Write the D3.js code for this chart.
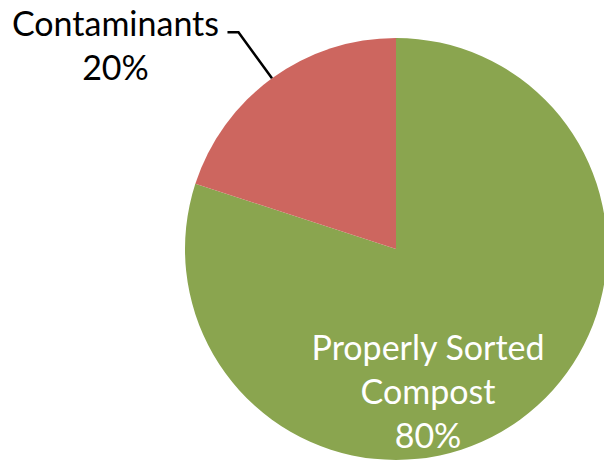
<!DOCTYPE html>
<html><head><meta charset="utf-8">
<script src="https://cdn.jsdelivr.net/npm/d3@7"></script>
<style>html,body{margin:0;padding:0;background:#fff;overflow:hidden}</style>
</head><body>
<svg id="c" width="604" height="460"></svg>
<script>
const categories = ["Properly Sorted Compost", "Contaminants"];
const values = [80, 20];
const labelLines = [["Properly Sorted", "Compost", "80%"], ["Contaminants", "20%"]];
const colors = ["#8AA54F", "#CD665F"];

const svg = d3.select("#c");
const cx = 396, cy = 249, r = 211;
const g = svg.append("g").attr("transform", `translate(${cx},${cy})`);
const pie = d3.pie().sort(null).value(d => d)(values);
const arc = d3.arc().innerRadius(0).outerRadius(r);
g.selectAll("path.slice").data(pie).join("path")
  .attr("class", "slice")
  .attr("d", arc)
  .attr("fill", (d, i) => colors[i]);

const font = "Lato, 'Open Sans', sans-serif";
const fs = 34, lh = 44;

// inside label for slice 0
const lab0 = g.append("text").attr("font-family", font).attr("font-size", fs)
  .attr("fill", "#fff").attr("text-anchor", "middle");
labelLines[0].forEach((t, k) => {
  lab0.append("tspan").attr("x", 32).attr("y", 111 + k * lh).text(t);
});

// outside label with leader for slice 1
const p1 = pie[1];
const mid = (p1.startAngle + p1.endAngle) / 2;
const pt = (rad) => [Math.sin(mid) * rad, -Math.cos(mid) * rad];
const a = pt(r), b = pt(268);
const c = [b[0] - 11, b[1]];
g.append("polyline").attr("points", [a, b, c].map(p => p.join(",")).join(" "))
  .attr("fill", "none").attr("stroke", "#000").attr("stroke-width", 2.5);
const lab1 = g.append("text").attr("font-family", font).attr("font-size", fs)
  .attr("fill", "#000").attr("text-anchor", "middle");
labelLines[1].forEach((t, k) => {
  lab1.append("tspan").attr("x", c[0] - 112).attr("y", c[1] + 4 + k * lh).text(t);
});
</script>
</body></html>
